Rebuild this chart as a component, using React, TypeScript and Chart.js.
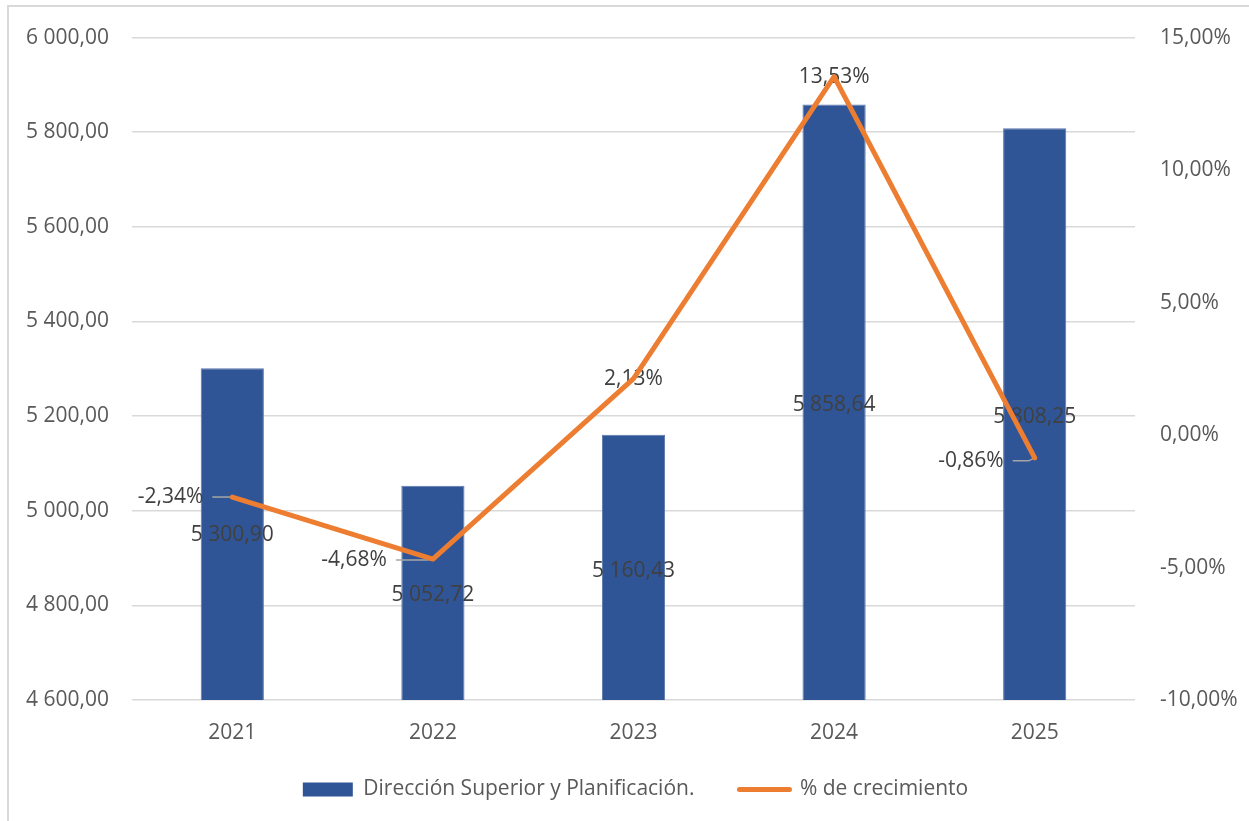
import React, { useEffect, useRef } from "react";
import { Chart, registerables } from "chart.js";

Chart.register(...registerables);

const categories = ["2021", "2022", "2023", "2024", "2025"];
const budgetValues = [5300.9, 5052.72, 5160.43, 5858.64, 5808.25];
const growthValues = [-2.34, -4.68, 2.13, 13.53, -0.86];
const barSeriesName = "Dirección Superior y Planificación.";
const lineSeriesName = "% de crecimiento";

const FONT = "'Open Sans', 'DejaVu Sans', sans-serif";
const FONT_SIZE = 21;
const BAR_COLOR = "#2F5597";
const LINE_COLOR = "#ED7D31";
const TICK_COLOR = "#595959";
const LABEL_COLOR = "#404040";

function fmtNumber(v: number): string {
  const parts = v.toFixed(2).split(".");
  const neg = parts[0].startsWith("-");
  let intPart = neg ? parts[0].slice(1) : parts[0];
  intPart = intPart.replace(/\B(?=(\d{3})+(?!\d))/g, " ");
  return (neg ? "-" : "") + intPart + "," + parts[1];
}

function fmtPct(v: number): string {
  return v.toFixed(2).replace(".", ",") + "%";
}

// label placement (pixel offsets) for the bar labels, relative to bar top
const barLabelOffsets = [167, 109, 136, 301, 289];
// line label placement: dx/dy from point, alignment, leader line start
const lineLabelPlacement = [
  { dx: -29, dy: 0, align: "right", leader: -20, leaderDy: 0 },
  { dx: -46, dy: 1, align: "right", leader: -37, leaderDy: 1 },
  { dx: 0, dy: 0, align: "center", leader: 0, leaderDy: 0 },
  { dx: 0, dy: 0, align: "center", leader: 0, leaderDy: 0 },
  { dx: -31, dy: 3, align: "right", leader: -22, leaderDy: 3 },
];

const framePlugin = {
  id: "frame",
  beforeDraw(chart: any) {
    const { ctx, width, height } = chart;
    ctx.save();
    ctx.fillStyle = "#ffffff";
    ctx.fillRect(0, 0, width, height);
    ctx.strokeStyle = "#d9d9d9";
    ctx.lineWidth = 2;
    ctx.beginPath();
    ctx.moveTo(8, height + 5);
    ctx.lineTo(8, 6);
    ctx.lineTo(width + 5, 6);
    ctx.stroke();
    ctx.restore();
  },
};

const legendShiftPlugin = {
  id: "legendShift",
  afterLayout(chart: any) {
    const lg = chart.legend;
    if (!lg) return;
    lg.top = chart.chartArea.bottom + 34;
    lg.bottom = chart.height;
  },
};

const labelsPlugin = {
  id: "customLabels",
  afterDatasetDraw(chart: any, args: any) {
    if (args.index !== 0) return;
    const { ctx } = chart;
    ctx.save();
    ctx.font = `${FONT_SIZE}px ${FONT}`;
    ctx.fillStyle = LABEL_COLOR;
    ctx.textBaseline = "middle";
    const barMeta = chart.getDatasetMeta(0);
    barMeta.data.forEach((el: any, i: number) => {
      ctx.textAlign = "center";
      ctx.fillText(fmtNumber(budgetValues[i]), el.x, el.y + barLabelOffsets[i]);
    });
    const lineMeta = chart.getDatasetMeta(1);
    lineMeta.data.forEach((pt: any, i: number) => {
      const p = lineLabelPlacement[i];
      if (p.leader !== 0) {
        ctx.strokeStyle = "#a6a6a6";
        ctx.lineWidth = 1.5;
        ctx.beginPath();
        ctx.moveTo(pt.x + p.leader, pt.y + p.leaderDy);
        ctx.lineTo(pt.x - 6, pt.y + p.leaderDy);
        ctx.lineTo(pt.x, pt.y);
        ctx.stroke();
      }
      ctx.fillStyle = LABEL_COLOR;
      ctx.textAlign = p.align;
      ctx.fillText(fmtPct(growthValues[i]), pt.x + p.dx, pt.y + p.dy);
    });
    ctx.restore();
  },
};

export default function App() {
  const canvasRef = useRef<HTMLCanvasElement | null>(null);

  useEffect(() => {
    const canvas = canvasRef.current;
    if (!canvas) return;
    const chart = new Chart(canvas, {
      type: "bar",
      data: {
        labels: categories,
        datasets: [
          {
            type: "bar",
            label: barSeriesName,
            data: budgetValues,
            backgroundColor: BAR_COLOR,
            borderColor: "#5a76ab",
            borderWidth: 1,
            barPercentage: 0.315,
            categoryPercentage: 1,
            yAxisID: "y",
            order: 1,
          },
          {
            type: "line",
            label: lineSeriesName,
            data: growthValues,
            borderColor: LINE_COLOR,
            backgroundColor: LINE_COLOR,
            borderWidth: 5,
            pointRadius: 0,
            borderCapStyle: "round",
            borderJoinStyle: "round",
            tension: 0,
            yAxisID: "y1",
            order: 0,
          },
        ],
      },
      options: {
        responsive: false,
        animation: false,
        layout: { padding: { left: 22, right: 0, top: 36, bottom: 11 } },
        plugins: {
          tooltip: { enabled: false },
          legend: {
            position: "bottom",
            maxHeight: 60,
            labels: {
              usePointStyle: true,
              pointStyleWidth: 50,
              boxHeight: 14,
              padding: 45,
              color: TICK_COLOR,
              font: { family: FONT, size: FONT_SIZE },
              generateLabels: () => [
                {
                  text: barSeriesName,
                  fillStyle: BAR_COLOR,
                  strokeStyle: BAR_COLOR,
                  lineWidth: 0,
                  pointStyle: "rect",
                  fontColor: TICK_COLOR,
                  datasetIndex: 0,
                  hidden: false,
                },
                {
                  text: lineSeriesName,
                  fillStyle: LINE_COLOR,
                  strokeStyle: LINE_COLOR,
                  lineWidth: 5,
                  lineCap: "round",
                  pointStyle: "line",
                  fontColor: TICK_COLOR,
                  datasetIndex: 1,
                  hidden: false,
                },
              ],
            },
          },
        },
        scales: {
          x: {
            grid: { display: false, drawTicks: false },
            border: { display: false },
            ticks: {
              color: TICK_COLOR,
              font: { family: FONT, size: FONT_SIZE },
              padding: 20,
            },
            afterFit: (s: any) => {
              s.height = 50;
            },
          },
          y: {
            position: "left",
            min: 4600,
            max: 6000,
            grid: { color: "#d9d9d9", lineWidth: 1.5, drawTicks: false },
            border: { display: false },
            ticks: {
              stepSize: 200,
              color: TICK_COLOR,
              padding: 23,
              font: { family: FONT, size: FONT_SIZE },
              callback: (v: any) => fmtNumber(Number(v)),
            },
            afterFit: (s: any) => {
              s.width = 110;
            },
          },
          y1: {
            position: "right",
            min: -10,
            max: 15,
            grid: { display: false, drawTicks: false },
            border: { display: false },
            ticks: {
              stepSize: 5,
              color: TICK_COLOR,
              padding: 25,
              font: { family: FONT, size: FONT_SIZE },
              callback: (v: any) => fmtPct(Number(v)),
            },
            afterFit: (s: any) => {
              s.width = 114;
            },
          },
        },
      },
      plugins: [framePlugin, legendShiftPlugin, labelsPlugin],
    } as any);
    return () => chart.destroy();
  }, []);

  return (
    <div style={{ position: "absolute", left: 0, top: 0, width: 1249, height: 821 }}>
      <canvas ref={canvasRef} width={1249} height={821} />
    </div>
  );
}
